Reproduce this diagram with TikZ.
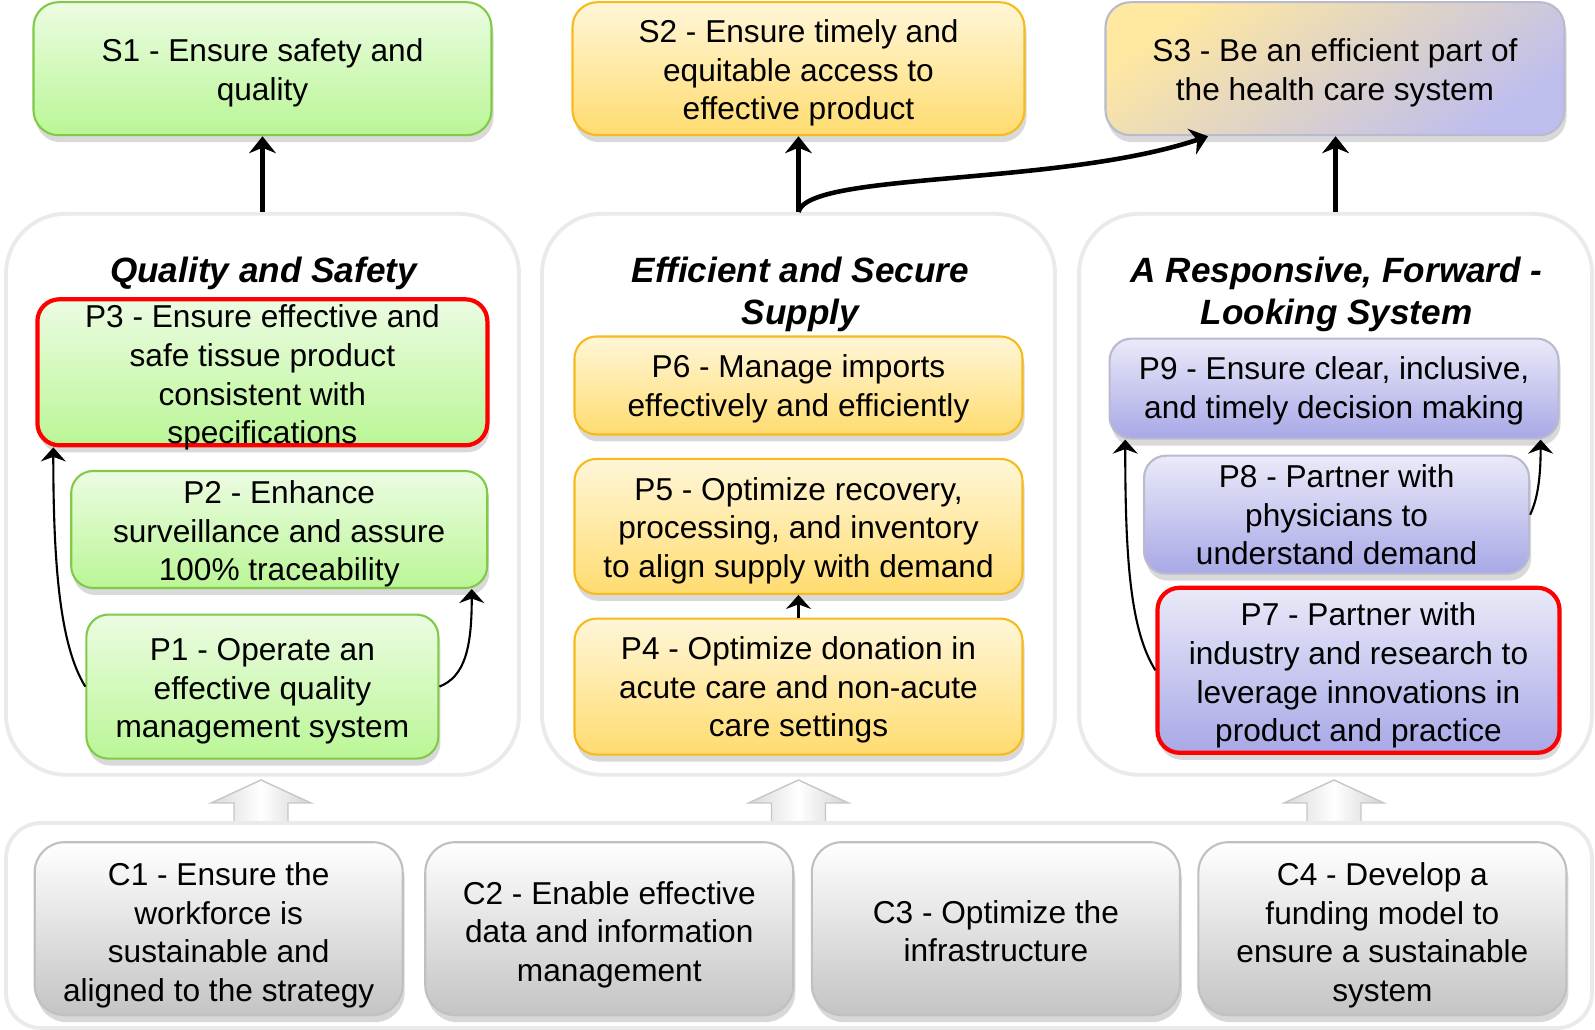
\documentclass[tikz,border=0pt]{standalone}
\usepackage{fontspec}
\setmainfont{Liberation Sans}
\usetikzlibrary{arrows.meta,shadows,calc}

\definecolor{qtop}{RGB}{236,252,226}
\definecolor{qbot}{RGB}{186,246,150}
\definecolor{qline}{RGB}{128,202,72}
\definecolor{ytop}{RGB}{255,246,216}
\definecolor{ybot}{RGB}{255,220,112}
\definecolor{yline}{RGB}{246,186,28}
\definecolor{vtop}{RGB}{234,234,249}
\definecolor{vbot}{RGB}{168,168,231}
\definecolor{vline}{RGB}{186,186,206}
\definecolor{syel}{RGB}{255,232,160}
\definecolor{slav}{RGB}{190,190,238}
\definecolor{cbot}{RGB}{196,196,196}
\definecolor{cline}{RGB}{192,192,192}
\definecolor{panelgray}{RGB}{234,234,234}

% strut that pushes the first line down a little
\newcommand\lift[1][9pt]{\rule{0pt}{#1}}

\begin{document}
\begin{tikzpicture}[
    box/.style={rounded corners=0.22cm, align=center, line width=0.6pt, inner ysep=-3pt,
                font=\fontsize{9}{11}\selectfont, text=black,
                drop shadow={shadow xshift=0.2mm, shadow yshift=-0.7mm, opacity=0.3}},
    qbox/.style={box, draw=qline, top color=qtop, bottom color=qbot},
    ybox/.style={box, draw=yline, top color=ytop, bottom color=ybot},
    vbox/.style={box, draw=vline, top color=vtop, bottom color=vbot},
    cbox/.style={box, rounded corners=0.3cm, draw=cline, top color=white, bottom color=cbot,
                 minimum width=3.68cm, minimum height=1.73cm},
    keybox/.style={draw=red, line width=1.2pt},
    panel/.style={draw=panelgray, line width=1.1pt, rounded corners=0.6cm,
                  minimum width=5.13cm, minimum height=5.61cm},
    heading/.style={align=center, font=\fontsize{10}{12}\selectfont\bfseries\itshape,
                    execute at begin node={\rule{0pt}{10.5pt}}},
    bigarrow/.style={-{Stealth[length=1.7mm, width=2.7mm]}, line width=1.3pt},
    smallarrow/.style={-{Stealth[length=1.4mm, width=2.5mm]}, line width=0.6pt},
    hollow/.style={draw=gray!45, line width=0.4pt, left color=gray!30,
                   right color=gray!35, middle color=white}]
  \useasboundingbox (0,0) rectangle (15.95,10.30);

  % strategic goals
  \node[qbox, rounded corners=0.25cm, minimum width=4.58cm, minimum height=1.33cm] (s1) at (2.625, 9.613)
       {\lift S1 - Ensure safety and\\quality};
  \node[ybox, rounded corners=0.25cm, minimum width=4.52cm, minimum height=1.33cm] (s2) at (7.985, 9.613)
       {\lift S2 - Ensure timely and\\equitable access to\\effective product};
  \node[box, rounded corners=0.25cm, draw=vline, left color=syel, right color=slav, shading angle=35,
        minimum width=4.59cm, minimum height=1.33cm] (s3) at (13.35, 9.613)
       {\lift S3 - Be an efficient part of\\the health care system};

  % three pillars
  \node[panel] (quality) at (2.625, 5.357) {};
  \node[panel] (supply)  at (7.985, 5.357) {};
  \node[panel] (forward) at (13.356, 5.357) {};
  \node[heading] (t1) at (2.635, 7.625) {Quality and Safety};
  \node[heading] (t2) at (8.005, 7.355) {Efficient and Secure\\Supply};
  \node[heading] (t3) at (13.366, 7.355) {A Responsive, Forward -\\Looking System};

  \node[qbox, keybox, minimum width=4.50cm, minimum height=1.46cm] (p3) at (2.624, 6.577)
       {\lift[9.6pt]P3 - Ensure effective and\\safe tissue product\\consistent with\\specifications};
  \node[qbox, minimum width=4.16cm, minimum height=1.17cm] (p2) at (2.792, 5.005)
       {\lift P2 - Enhance\\surveillance and assure\\100\% traceability};
  \node[qbox, minimum width=3.52cm, minimum height=1.44cm] (p1) at (2.624, 3.434)
       {\lift P1 - Operate an\\effective quality\\management system};

  \node[ybox, minimum width=4.48cm, minimum height=0.98cm] (p6) at (7.985, 6.445)
       {\lift[8.4pt]P6 - Manage imports\\effectively and efficiently};
  \node[ybox, minimum width=4.48cm, minimum height=1.35cm] (p5) at (7.985, 5.036)
       {\lift P5 - Optimize recovery,\\processing, and inventory\\to align supply with demand};
  \node[ybox, minimum width=4.48cm, minimum height=1.36cm] (p4) at (7.985, 3.434)
       {\lift[8.4pt]P4 - Optimize donation in\\acute care and non-acute\\care settings};

  \node[vbox, minimum width=4.49cm, minimum height=1.0cm] (p9) at (13.341, 6.414)
       {\lift[7.9pt]P9 - Ensure clear, inclusive,\\and timely decision making};
  \node[vbox, minimum width=3.85cm, minimum height=1.18cm] (p8) at (13.366, 5.153)
       {P8 - Partner with\\physicians to\\understand demand};
  \node[vbox, keybox, minimum width=4.02cm, minimum height=1.65cm] (p7) at (13.585, 3.597)
       {\lift[9.6pt]P7 - Partner with\\industry and research to\\leverage innovations in\\product and practice};

  % links
  \draw[bigarrow] (quality.north) -- (s1.south);
  \draw[bigarrow] (supply.north) -- (s2.south);
  \draw[bigarrow] (forward.north) -- (forward.north |- s3.south);
  \draw[bigarrow] (supply.north) .. controls +(0.1,0.4) and +(-1.5,-0.5) .. ($(s3.south)+(-1.27,0)$);

  \draw[smallarrow] (p1.west) .. controls +(-0.25,0.4) and +(0,-1.2) .. ($(p3.south west)+(0.18,0)$);
  \draw[smallarrow] (p1.east) .. controls +(0.25,0.1) and +(0,-0.6) .. ($(p2.south east)+(-0.165,0)$);
  \draw[smallarrow] (p4.north) -- (p5.south);
  \draw[smallarrow] (p7.west) .. controls +(-0.25,0.4) and +(0,-1.2) .. ($(p9.south west)+(0.167,0)$);
  \draw[smallarrow] (p8.east) .. controls +(0.07,0.15) and +(0,-0.4) .. ($(p9.south east)+(-0.19,0)$);

  % enablers
  \foreach \x in {2.61, 7.985, 13.34}
    \draw[hollow] ({\x-0.27},2.08) -- ({\x-0.27},2.27) -- ({\x-0.5},2.27) -- (\x,2.50)
                  -- ({\x+0.5},2.27) -- ({\x+0.27},2.27) -- ({\x+0.27},2.08) -- cycle;
  \node[panel, rounded corners=0.35cm, minimum width=15.86cm, minimum height=2.05cm, fill=white] (base) at (7.99, 1.045) {};

  \node[cbox] (c1) at (2.187, 1.013) {\lift[10.2pt]C1 - Ensure the\\workforce is\\sustainable and\\aligned to the strategy};
  \node[cbox] (c2) at (6.093, 1.013) {\lift[9.9pt]C2 - Enable effective\\data and information\\management};
  \node[cbox] (c3) at (9.959, 1.013) {\lift[7.9pt]C3 - Optimize the\\infrastructure};
  \node[cbox] (c4) at (13.824, 1.013) {\lift[10.2pt]C4 - Develop a\\funding model to\\ensure a sustainable\\system};
\end{tikzpicture}
\end{document}
